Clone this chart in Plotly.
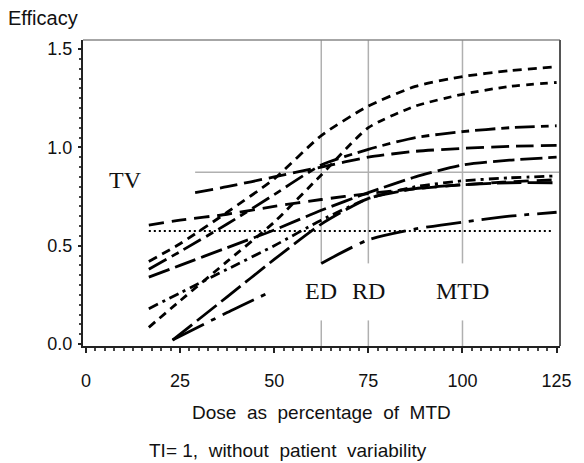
import plotly.graph_objects as go

# ---------------- data ----------------
dose_a = [16.7, 25, 37.5, 50, 62.5, 75, 87.5, 100, 112.5, 125]
eff_a = [0.42, 0.51, 0.67, 0.84, 1.06, 1.21, 1.31, 1.36, 1.39, 1.41]

dose_b = [16.7, 25, 37.5, 50, 62.5, 75, 87.5, 100, 112.5, 125]
eff_b = [0.085, 0.22, 0.42, 0.62, 0.86, 1.10, 1.21, 1.27, 1.31, 1.33]

dose_c = [16.7, 25, 37.5, 50, 62.5, 75, 87.5, 100, 112.5, 125]
eff_c = [0.38, 0.47, 0.61, 0.76, 0.91, 0.99, 1.05, 1.08, 1.10, 1.11]

dose_d = [29, 37.5, 50, 62.5, 75, 87.5, 100, 112.5, 125]
eff_d = [0.77, 0.80, 0.85, 0.90, 0.95, 0.98, 0.995, 1.005, 1.01]

dose_e = [16.7, 25, 37.5, 50, 62.5, 75, 87.5, 100, 112.5, 125]
eff_e = [0.34, 0.40, 0.49, 0.58, 0.68, 0.77, 0.85, 0.91, 0.935, 0.95]

dose_f = [16.7, 25, 37.5, 50, 62.5, 75, 87.5, 100, 112.5, 125]
eff_f = [0.605, 0.63, 0.66, 0.70, 0.735, 0.765, 0.79, 0.81, 0.825, 0.835]

dose_g = [16.7, 25, 37.5, 50, 62.5, 75, 87.5, 100, 112.5, 125]
eff_g = [0.18, 0.26, 0.38, 0.50, 0.63, 0.74, 0.80, 0.83, 0.845, 0.855]

dose_h = [23, 37.5, 50, 62.5, 75, 87.5, 100, 112.5, 125]
eff_h = [0.02, 0.24, 0.43, 0.61, 0.74, 0.79, 0.81, 0.82, 0.82]

dose_i = [23, 37.5, 49.5, 56, 62.5, 75, 87.5, 100, 112.5, 125]
eff_i = [0.02, 0.16, 0.27, None, 0.41, 0.53, 0.585, 0.62, 0.65, 0.67]

curve_doses = [dose_a, dose_b, dose_c, dose_d, dose_e, dose_f, dose_g, dose_h, dose_i]
curve_effs = [eff_a, eff_b, eff_c, eff_d, eff_e, eff_f, eff_g, eff_h, eff_i]
curve_dashes = ["9px,6px", "8px,6px", "20px,6px,8px,6px", "18px,7px",
                "22px,6px", "15px,8px", "10px,5px,3px,5px", "25px,6px",
                "35px,8px,5px,8px"]

ref_doses = [62.5, 75, 100]
ref_labels = ["ED", "RD", "MTD"]
tv_value = 0.874
tv_start = 29
dotted_value = 0.575
dotted_range = [16.7, 124]

x_ticks = [0, 25, 50, 75, 100, 125]
y_ticks = [0.0, 0.5, 1.0, 1.5]
y_ticktext = ["0.0", "0.5", "1.0", "1.5"]

# ---------------- figure ----------------
fig = go.Figure()

for xs, ys, dsh in zip(curve_doses, curve_effs, curve_dashes):
    fig.add_trace(go.Scatter(x=xs, y=ys, mode="lines", connectgaps=False,
                             line=dict(color="black", width=2.8, dash=dsh, shape="spline", smoothing=0.6),
                             showlegend=False, hoverinfo="skip"))

# dotted reference line
fig.add_trace(go.Scatter(x=dotted_range, y=[dotted_value, dotted_value], mode="lines",
                         line=dict(color="black", width=2, dash="2px,3px"),
                         showlegend=False, hoverinfo="skip"))

shapes = []
grey = "#b0b0b0"
for d in ref_doses:
    shapes.append(dict(type="line", xref="x", yref="y", x0=d, x1=d, y0=-0.01, y1=0.12,
                       line=dict(color=grey, width=1.5), layer="below"))
    shapes.append(dict(type="line", xref="x", yref="y", x0=d, x1=d, y0=0.41, y1=1.546,
                       line=dict(color=grey, width=1.5), layer="below"))
shapes.append(dict(type="line", xref="x", yref="y", x0=tv_start, x1=125.9, y0=tv_value, y1=tv_value,
                   line=dict(color=grey, width=1.5), layer="below"))
# top and right frame
shapes.append(dict(type="line", xref="paper", yref="paper", x0=0, x1=1, y0=1, y1=1,
                   line=dict(color="#888888", width=1.5)))
shapes.append(dict(type="line", xref="paper", yref="paper", x0=1, x1=1, y0=0, y1=1,
                   line=dict(color="#555555", width=2)))

annotations = []
serif = dict(family="Liberation Serif, Times New Roman, serif", size=24, color="#111")
annotations.append(dict(x=10.4, y=0.834, xref="x", yref="y", text="TV", showarrow=False, font=serif))
for d, lab in zip(ref_doses, ref_labels):
    annotations.append(dict(x=d, y=0.27, xref="x", yref="y", text=lab, showarrow=False, font=serif))

sans = "Liberation Sans, Arial, sans-serif"
annotations.append(dict(x=-0.1615, y=1.072, xref="paper", yref="paper", xanchor="left", yanchor="middle",
                        text="Efficacy", showarrow=False, font=dict(family=sans, size=20, color="#111")))
annotations.append(dict(x=0.5, y=-0.2157, xref="paper", yref="paper", xanchor="center", yanchor="middle",
                        text="Dose\u00a0\u00a0as\u00a0\u00a0percentage\u00a0\u00a0of\u00a0\u00a0MTD", showarrow=False,
                        font=dict(family=sans, size=19, color="#111")))
annotations.append(dict(x=0.4294, y=-0.34, xref="paper", yref="paper", xanchor="center", yanchor="middle",
                        text="TI=\u00a01,\u00a0\u00a0without\u00a0\u00a0patient\u00a0\u00a0variability", showarrow=False,
                        font=dict(family=sans, size=19, color="#111")))

fig.update_layout(
    width=584, height=463,
    margin=dict(l=83, r=12, t=40, b=117, pad=0),
    paper_bgcolor="white", plot_bgcolor="white",
    shapes=shapes, annotations=annotations,
    xaxis=dict(range=[-0.78, 125.9], tickvals=x_ticks, showgrid=False, zeroline=False,
               showline=True, linecolor="#222", linewidth=2, ticks="outside", ticklen=5,
               tickcolor="#222", tickwidth=1.5, ticklabelstandoff=12,
               tickfont=dict(family=sans, size=18, color="#111"),
               minor=dict(dtick=2.5, ticks="outside", ticklen=3, tickcolor="#444", showgrid=False)),
    yaxis=dict(range=[-0.01, 1.546], tickvals=y_ticks, ticktext=y_ticktext, showgrid=False,
               zeroline=False, showline=True, linecolor="#222", linewidth=2, ticks="outside",
               ticklen=3, tickcolor="#222", tickwidth=1.5, ticklabelstandoff=2,
               tickfont=dict(family=sans, size=18, color="#111"),
               minor=dict(dtick=0.05, ticks="outside", ticklen=2, tickcolor="#444", showgrid=False)),
)

fig.write_html("out.html")
